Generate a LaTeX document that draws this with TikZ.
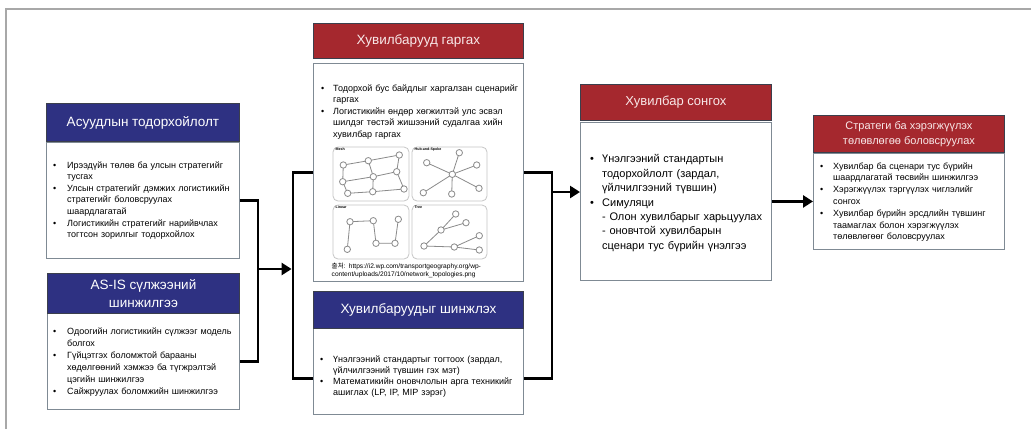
\documentclass[tikz,border=0pt]{standalone}
\usepackage{fontspec}
\setmainfont{Liberation Sans}
\newfontfamily\krfont{Noto Sans CJK KR}
\usetikzlibrary{arrows.meta}

\definecolor{navyhdr}{HTML}{2E3182}
\definecolor{redhdr}{HTML}{A5282E}
\definecolor{hdrline}{HTML}{3B3F4C}
\definecolor{bodyline}{HTML}{7F8A94}
\definecolor{framegray}{HTML}{A8A8A8}
\definecolor{topoline}{HTML}{8A8A8A}
\definecolor{panelline}{HTML}{C6C6C6}
\definecolor{redtext}{HTML}{F8E8E8}

% bullet item with hanging indent; \\ breaks the line inside the item
\newcommand{\bitem}[2][14pt]{\hangindent=#1\hangafter=1\noindent\makebox[#1][l]{\textbullet}{\def\\{\newline}#2}\par}

\tikzset{
  hdr/.style={draw=hdrline, line width=0.9pt, anchor=north west, inner sep=0pt, align=center},
  hdrB/.style={hdr, fill=navyhdr, text=white},
  hdrR/.style={hdr, fill=redhdr, text=redtext},
  bodybox/.style={draw=bodyline, line width=0.9pt, fill=white, anchor=north west, inner sep=0pt},
  txt/.style={anchor=north west, inner sep=0pt, text width=240pt, align=left, font=\fontsize{9}{11.6}\selectfont},
  conn/.style={line width=2.8pt, black},
  arr/.style={-{Triangle[length=10pt,width=12pt]}},
  panel/.style={draw=panelline, line width=0.8pt, rounded corners=5pt},
  topoedge/.style={draw=topoline, line width=0.8pt},
  topodot/.style={draw=topoline, fill=white, line width=0.8pt},
  toplabel/.style={anchor=north west, inner sep=0pt, font=\bfseries\fontsize{3.6}{4}\selectfont}
}

\begin{document}
\begin{tikzpicture}[x=1pt, y=-1pt]
\useasboundingbox (0,0) rectangle (1031,429);

% outer frame (top and left edges)
\draw[framegray, line width=1.3pt] (6,429) -- (6,9) -- (1031,9);

% ---------- left column ----------
\node[bodybox, minimum width=193pt, minimum height=116pt] (b1) at (46,142) {};
\node[hdrB, minimum width=193pt, minimum height=38pt, font=\fontsize{13.5}{16}\selectfont] (h1) at (46,103) {Асуудлын тодорхойлолт};
\node[txt] (t1) at (53,161.3) {%
\bitem{Ирээдүйн төлөв ба улсын стратегийг\\тусгах}
\bitem{Улсын стратегийг дэмжих логистикийн\\стратегийг боловсруулах\\шаардлагатай}
\bitem{Логистикийн стратегийг нарийвчлах\\тогтсон зорилгыг тодорхойлох}};

\node[bodybox, minimum width=192pt, minimum height=96pt] (b2) at (47,313) {};
\node[hdrB, minimum width=192pt, minimum height=40pt, font=\fontsize{13.5}{18}\selectfont] (h2) at (47,273) {AS-IS сүлжээний\\шинжилгээ};
\node[txt, font=\fontsize{9}{12}\selectfont] (t2) at (53,327.5) {%
\bitem{Одоогийн логистикийн сүлжээг модель\\болгох}
\bitem{Гүйцэтгэх боломжтой барааны\\хөдөлгөөний хэмжээ ба түгжрэлтэй\\цэгийн шинжилгээ}
\bitem{Сайжруулах боломжийн шинжилгээ}};

% ---------- middle column ----------
\node[bodybox, minimum width=210pt, minimum height=218pt] (m1) at (313,63) {};
\node[hdrR, minimum width=210pt, minimum height=35pt, font=\fontsize{13.5}{16}\selectfont] (hm1) at (313,23) {Хувилбарууд гаргах};
\node[txt, font=\fontsize{9}{11.5}\selectfont] (tm1) at (321,84.5) {%
\bitem[12pt]{Тодорхой бус байдлыг харгалзан сценарийг\\гаргах}
\bitem[12pt]{Логистикийн өндөр хөгжилтэй улс эсвэл\\шилдэг төстэй жишээний судалгаа хийн\\хувилбар гаргах}};

% network topology panels
\draw[panel] (333,147) rectangle (409,201);
\draw[panel] (412,147) rectangle (487,201);
\draw[panel] (333,205) rectangle (409,259);
\draw[panel] (412,205) rectangle (487,259);
\node[toplabel] (lMesh) at (335.5,148) {Mesh};
\node[toplabel] (lHub) at (414.5,148) {Hub-and-Spoke};
\node[toplabel] (lLin) at (335.5,206) {Linear};
\node[toplabel] (lTree) at (414.5,206) {Tree};

% mesh
\draw[topoedge] (343.3,165) -- (368.3,160.7) -- (399.3,155);
\draw[topoedge] (342.7,181.7) -- (373.3,176.7) -- (396.7,171.7);
\draw[topoedge] (347.7,193.3) -- (372.7,191.7) -- (404,189);
\draw[topoedge] (343.3,165) -- (342.7,181.7) -- (347.7,193.3);
\draw[topoedge] (368.3,160.7) -- (373.3,176.7) -- (372.7,191.7);
\draw[topoedge] (399.3,155) -- (396.7,171.7) -- (404,189);
\foreach \p in {(343.3,165),(368.3,160.7),(399.3,155),(342.7,181.7),(373.3,176.7),(396.7,171.7),(347.7,193.3),(372.7,191.7),(404,189)}
  \filldraw[topodot] \p circle (3.2pt);

% hub and spoke
\foreach \p in {(426.7,162.7),(459.3,152.7),(476.7,165),(479,188.3),(451.7,194),(423.3,192.7)}
  \draw[topoedge] (452.3,174.3) -- \p;
\foreach \p in {(452.3,174.3),(426.7,162.7),(459.3,152.7),(476.7,165),(479,188.3),(451.7,194),(423.3,192.7)}
  \filldraw[topodot] \p circle (3.2pt);

% linear
\draw[topoedge] (347.3,249.3) -- (350,221.7) -- (373.3,220.7) -- (376,243.3) -- (395,243.3) -- (398.3,219.3);
\foreach \p in {(347.3,249.3),(350,221.7),(373.3,220.7),(376,243.3),(395,243.3),(398.3,219.3)}
  \filldraw[topodot] \p circle (3.2pt);

% tree
\draw[topoedge] (424,246) -- (441,230) -- (455.7,214);
\draw[topoedge] (441,230) -- (466,222.7);
\draw[topoedge] (424,246) -- (454.3,247) -- (479.3,235.7);
\draw[topoedge] (454.3,247) -- (479.3,250);
\foreach \p in {(424,246),(441,230),(455.7,214),(466,222.7),(454.3,247),(479.3,235.7),(479.3,250)}
  \filldraw[topodot] \p circle (3.2pt);

\node[txt, font=\fontsize{6.6}{8.3}\selectfont] (src) at (331.5,263) {{\krfont 출처}: https://i2.wp.com/transportgeography.org/wp-\\content/uploads/2017/10/network\_topologies.png};

\node[bodybox, minimum width=210pt, minimum height=86pt] (m2) at (313,328) {};
\node[hdrB, minimum width=210pt, minimum height=37pt, font=\fontsize{13.5}{16}\selectfont] (hm2) at (313,291) {Хувилбаруудыг шинжлэх};
\node[txt, font=\fontsize{9}{11.1}\selectfont] (tm2) at (320,355.5) {%
\bitem[13pt]{Үнэлгээний стандартыг тогтоох (зардал,\\үйлчилгээний түвшин гэх мэт)}
\bitem[13pt]{Математикийн оновчлолын арга техникийг\\ашиглах (LP, IP, MIP зэрэг)}};

% ---------- option selection ----------
\node[bodybox, minimum width=191pt, minimum height=158pt] (c4) at (580,122) {};
\node[hdrR, minimum width=191pt, minimum height=36pt, font=\fontsize{13}{16}\selectfont] (h4) at (580,84) {Хувилбар сонгох};
\node[txt, font=\fontsize{11}{14.4}\selectfont] (t4) at (590,154.5) {%
\bitem[12pt]{Үнэлгээний стандартын\\тодорхойлолт (зардал,\\үйлчилгээний түвшин)}
\bitem[12pt]{Симуляци\\- Олон хувилбарыг харьцуулах\\- оновчтой хувилбарын\\сценари тус бүрийн үнэлгээ}};

% ---------- strategy ----------
\node[bodybox, minimum width=191pt, minimum height=96pt] (fin) at (813,153) {};
\node[hdrR, minimum width=191pt, minimum height=37pt, font=\fontsize{11}{15}\selectfont] (h5) at (813,115) {Стратеги ба хэрэгжүүлэх\\төлөвлөгөө боловсруулах};
\node[txt, font=\fontsize{9}{11.8}\selectfont] (t5) at (820,162.2) {%
\bitem[13pt]{Хувилбар ба сценари тус бүрийн\\шаардлагатай төсвийн шинжилгээ}
\bitem[13pt]{Хэрэгжүүлэх тэргүүлэх чиглэлийг\\сонгох}
\bitem[13pt]{Хувилбар бүрийн эрсдлийн түвшинг\\таамаглах болон хэрэгжүүлэх\\төлөвлөгөөг боловсруулах}};

% ---------- connectors ----------
\coordinate (jL) at (258,269);
\coordinate (sL) at (293,269);
\coordinate (sR) at (552,192);
\draw[conn] (b1.east) -| (jL) |- (b2.east);
\draw[conn, arr] (jL) -- ([xshift=-1.4pt]sL);
\draw[conn] (m1.west) -| (sL) |- ([yshift=-7pt]m2.west);
\draw[conn] (m1.east) -| (sR) |- ([yshift=-7pt]m2.east);
\draw[conn, arr] (sR) -- (sR -| c4.west);
\draw[conn, arr] (c4.east) -- (c4.east -| fin.west);
\end{tikzpicture}
\end{document}
